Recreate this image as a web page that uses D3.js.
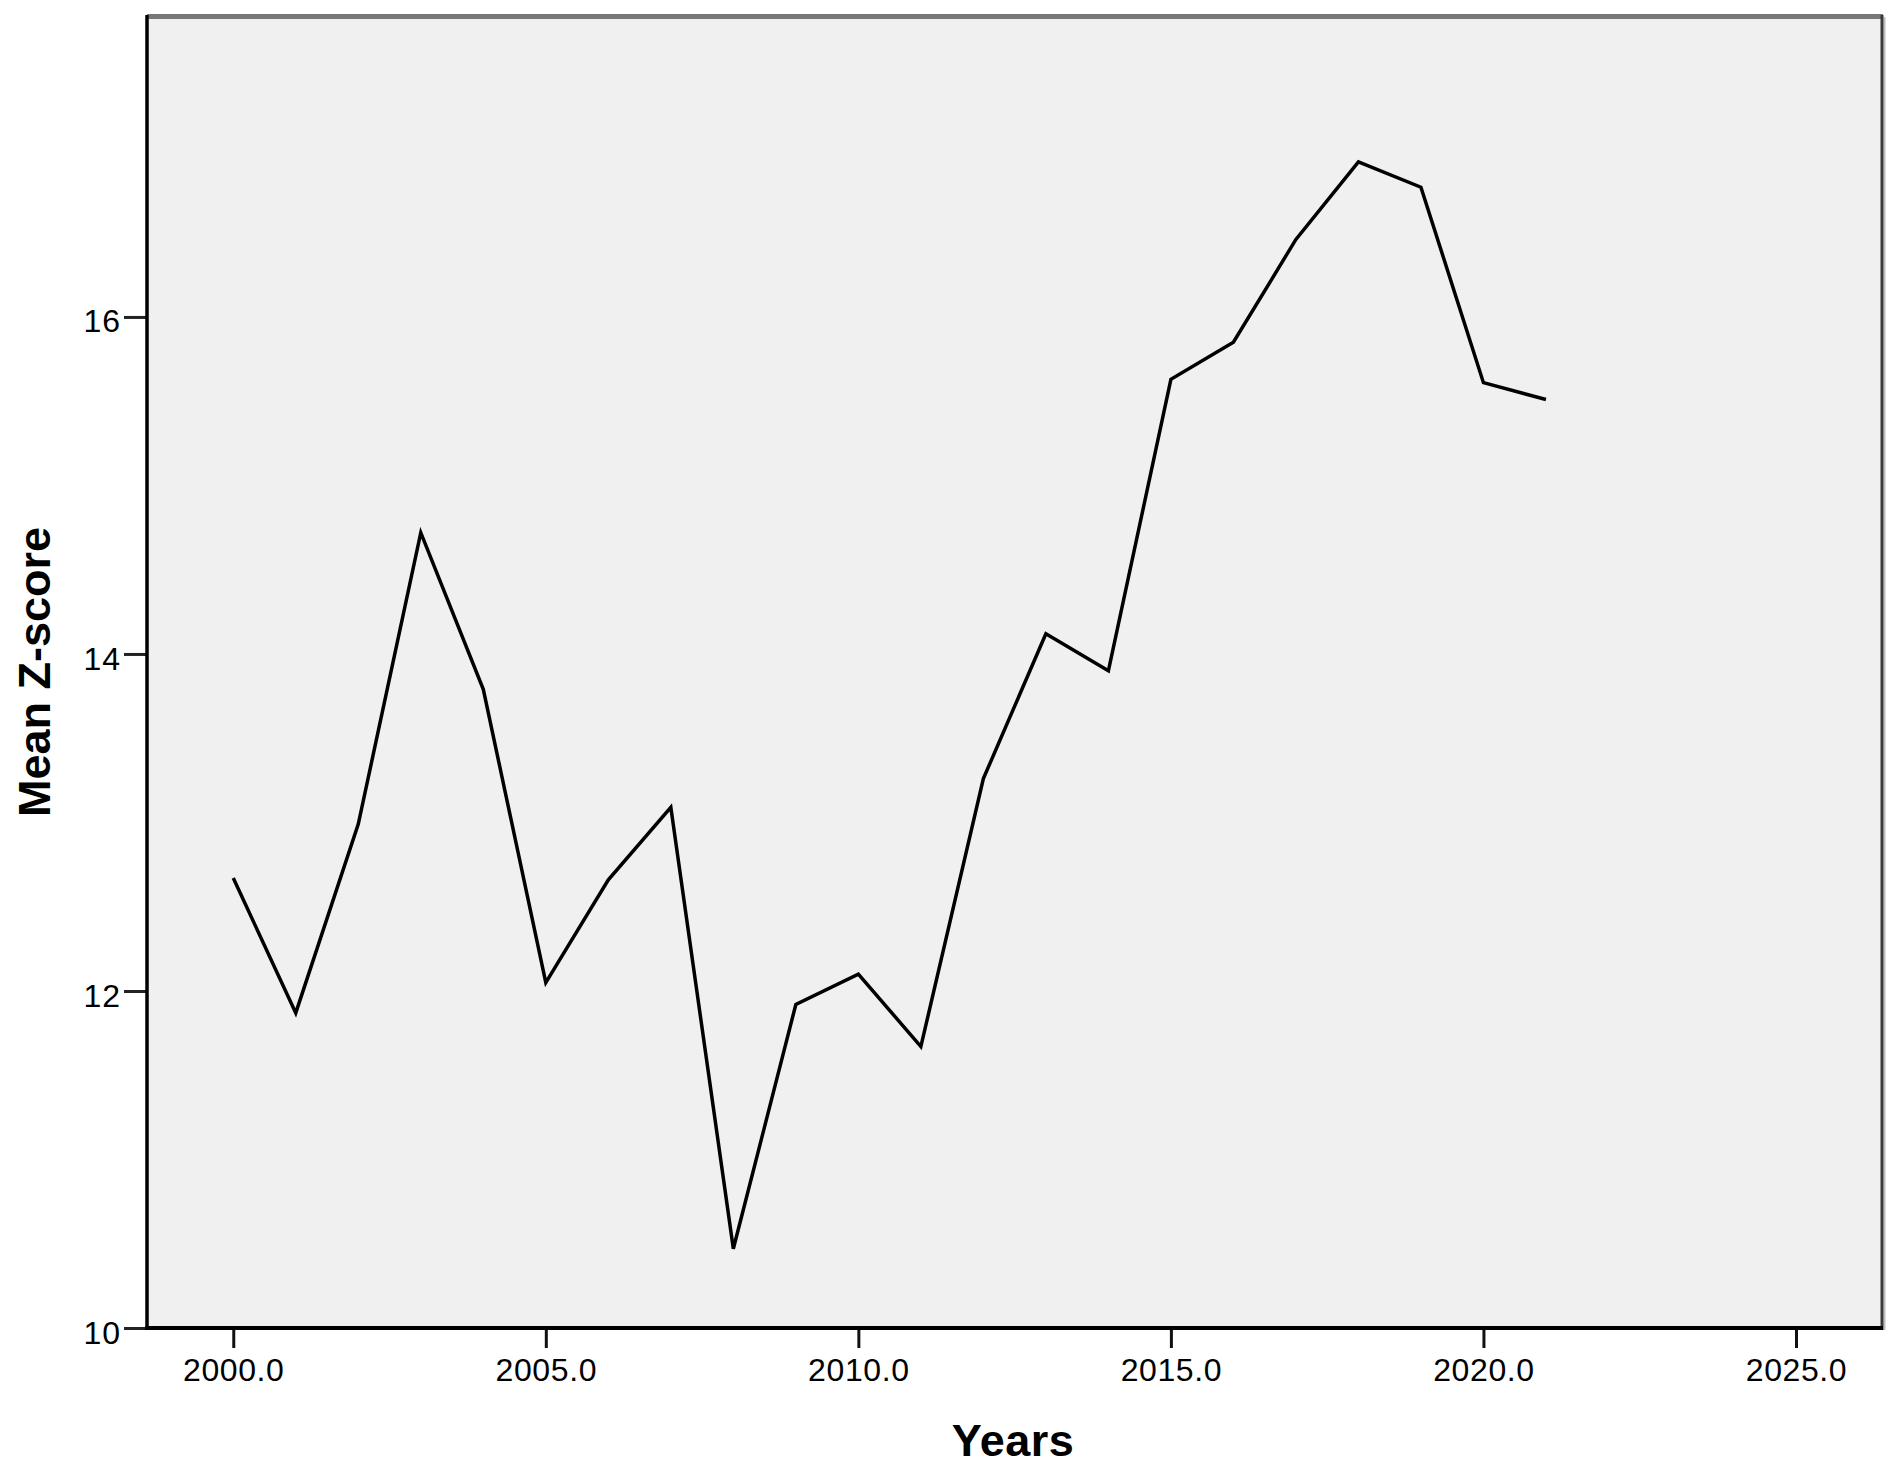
<!DOCTYPE html>
<html>
<head>
<meta charset="utf-8">
<script src="https://cdn.jsdelivr.net/npm/d3@7"></script>
<style>
  html, body { margin: 0; padding: 0; background: #ffffff; }
  svg { display: block; }
</style>
</head>
<body>
<svg id="chart" width="1901" height="1476"></svg>
<script>
// ---- data ----
const years = [2000, 2001, 2002, 2003, 2004, 2005, 2006, 2007, 2008, 2009, 2010,
               2011, 2012, 2013, 2014, 2015, 2016, 2017, 2018, 2019, 2020, 2021];
const meanZ = [12.67, 11.87, 12.99, 14.72, 13.79, 12.05, 12.66, 13.09, 10.47, 11.92, 12.10,
               11.67, 13.26, 14.12, 13.90, 15.63, 15.85, 16.46, 16.92, 16.77, 15.61, 15.51];
const xTicks = [2000, 2005, 2010, 2015, 2020, 2025];
const yTicks = [10, 12, 14, 16];
const xTitle = "Years";
const yTitle = "Mean Z-score";

(function () {
// ---- layout ----
const svg = d3.select("#chart");
const pL = 147, pR = 1881, pT = 17, pB = 1328;

const x = d3.scaleLinear().domain([1998.62, 2026.36]).range([pL, pR]);
const y = d3.scaleLinear().domain([10, 17.78]).range([pB, pT]);

// plot background
svg.append("rect")
  .attr("x", pL).attr("y", pT)
  .attr("width", pR - pL).attr("height", pB - pT)
  .attr("fill", "#f0f0f0");

// frame: top and right (gray)
svg.append("line")
  .attr("x1", pL).attr("x2", pR + 2)
  .attr("y1", pT - 0.5).attr("y2", pT - 0.5)
  .attr("stroke", "#787878").attr("stroke-width", 5);
svg.append("line")
  .attr("x1", pR + 3.5).attr("x2", pR + 3.5)
  .attr("y1", pT).attr("y2", pB + 2)
  .attr("stroke", "#bdbdbd").attr("stroke-width", 2);
svg.append("line")
  .attr("x1", pR + 1).attr("x2", pR + 1)
  .attr("y1", pT - 2).attr("y2", pB + 2)
  .attr("stroke", "#3a3a3a").attr("stroke-width", 3);

// x axis
const xAxis = d3.axisBottom(x)
  .tickValues(xTicks)
  .tickFormat(d3.format(".1f"))
  .tickSize(20)
  .tickSizeOuter(0);
const gx = svg.append("g")
  .attr("transform", `translate(0,${pB})`)
  .call(xAxis);
gx.select(".domain").remove();
gx.selectAll(".tick line").attr("stroke", "#111").attr("stroke-width", 3);
gx.selectAll(".tick text")
  .attr("y", 53).attr("dy", 0)
  .attr("fill", "#000")
  .style("font-family", "'Liberation Sans', Arial, sans-serif")
  .style("font-size", "32px")
  .style("letter-spacing", "0.6px");

// y axis
const yAxis = d3.axisLeft(y)
  .tickValues(yTicks)
  .tickFormat(d3.format("d"))
  .tickSize(23)
  .tickSizeOuter(0);
const gy = svg.append("g")
  .attr("transform", `translate(${pL},0)`)
  .call(yAxis);
gy.select(".domain").remove();
gy.selectAll(".tick line").attr("stroke", "#222").attr("stroke-width", 3);
gy.selectAll(".tick text")
  .attr("x", -26).attr("dy", "0.47em")
  .attr("fill", "#000")
  .style("font-family", "'Liberation Sans', Arial, sans-serif")
  .style("font-size", "32px")
  .style("letter-spacing", "1px");

// axis lines (black)
svg.append("line")
  .attr("x1", pL).attr("x2", pL)
  .attr("y1", pT - 2).attr("y2", pB + 2)
  .attr("stroke", "#000").attr("stroke-width", 3.5);
svg.append("line")
  .attr("x1", pL - 2).attr("x2", pR + 2)
  .attr("y1", pB).attr("y2", pB)
  .attr("stroke", "#000").attr("stroke-width", 4);

// data line
const line = d3.line()
  .x((d, i) => x(years[i]))
  .y(d => y(d));
svg.append("path")
  .datum(meanZ)
  .attr("d", line)
  .attr("fill", "none")
  .attr("stroke", "#000")
  .attr("stroke-width", 3.5)
  .attr("stroke-linejoin", "miter");

// titles
svg.append("text")
  .attr("x", 1013).attr("y", 1456)
  .attr("text-anchor", "middle")
  .style("font-family", "'Liberation Sans', Arial, sans-serif")
  .style("font-weight", "bold")
  .style("font-size", "45px")
  .style("letter-spacing", "0.5px")
  .attr("fill", "#000")
  .text(xTitle);

svg.append("text")
  .attr("transform", "translate(50,672) rotate(-90)")
  .attr("text-anchor", "middle")
  .style("font-family", "'Liberation Sans', Arial, sans-serif")
  .style("font-weight", "bold")
  .style("font-size", "45px")
  .attr("fill", "#000")
  .text(yTitle);
})();
</script>
</body>
</html>
